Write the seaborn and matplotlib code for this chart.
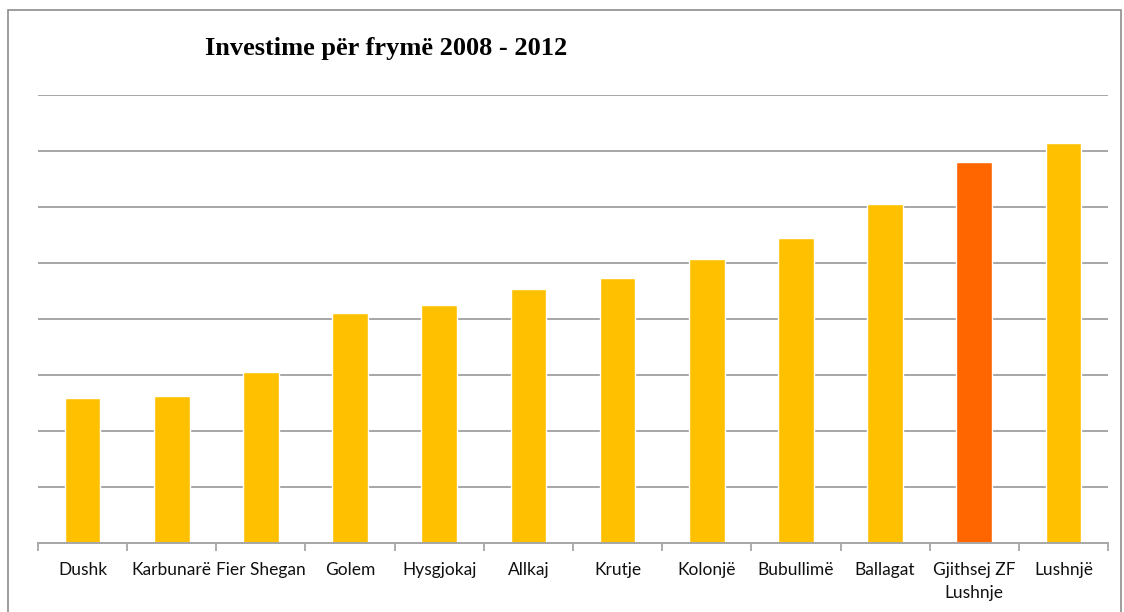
import pandas as pd
import numpy as np
import seaborn as sns
import matplotlib.pyplot as plt
from matplotlib.patches import Rectangle

# values (gridline = 1 unit, no y labels shown)
categories = ['Dushk', 'Karbunarë', 'Fier Shegan', 'Golem', 'Hysgjokaj', 'Allkaj',
              'Krutje', 'Kolonjë', 'Bubullimë', 'Ballagat', 'Gjithsej ZF\nLushnje', 'Lushnjë']
values = [2.59, 2.63, 3.05, 4.11, 4.25, 4.54, 4.73, 5.07, 5.45, 6.05, 6.80, 7.14]
highlight = 'Gjithsej ZF\nLushnje'

df = pd.DataFrame({'zona': categories, 'investime': values})
colors = {c: ('#FF6600' if c == highlight else '#FFC000') for c in categories}

sns.set_style('white')
plt.rcParams['font.family'] = ['Lato', 'DejaVu Sans']

fig = plt.figure(figsize=(11.24, 6.12), dpi=100)
ax = fig.add_axes([38 / 1124, 1 - 543 / 612, (1108 - 38) / 1124, (543 - 95) / 612])

sns.barplot(data=df, x='zona', y='investime', hue='zona', palette=colors,
            legend=False, width=0.4, saturation=1, ax=ax)

ax.set_ylim(0, 8)
ax.set_xlim(-0.5, len(categories) - 0.5)
ax.set_yticks(np.arange(1, 9))
ax.yaxis.grid(True, color='#A6A6A6', linewidth=1.4)
ax.set_axisbelow(True)
ax.tick_params(axis='y', left=False, labelleft=False)
ax.set_xlabel('')
ax.set_ylabel('')

# tick marks between categories
ax.set_xticks(np.arange(len(categories)))
ax.set_xticklabels(categories, fontsize=12.5, color='#111111', linespacing=1.5)
ax.tick_params(axis='x', length=0, pad=14)
ax.set_xticks(np.arange(len(categories) + 1) - 0.5, minor=True)
ax.tick_params(axis='x', which='minor', length=6, width=1.3, color='#A6A6A6', bottom=True)

for s in ['top', 'right', 'left']:
    ax.spines[s].set_visible(False)
ax.spines['bottom'].set_color('#A6A6A6')
ax.spines['bottom'].set_linewidth(1.4)

fig.text(205 / 1124, 1 - 48 / 612, 'Investime për frymë 2008 - 2012',
         family=['Liberation Serif', 'DejaVu Serif'], fontweight='bold',
         fontsize=19, color='black', va='center', ha='left')

# outer chart border
fig.patches.append(Rectangle((8 / 1124, -0.01), (1121 - 8) / 1124, 1 - 10 / 612 + 0.01,
                             transform=fig.transFigure, fill=False,
                             edgecolor='#8C8C8C', linewidth=1.2))

fig.savefig('out.png', dpi=100)
